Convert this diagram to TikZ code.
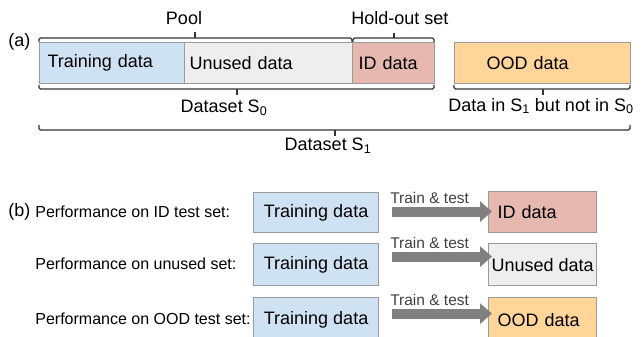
\documentclass[tikz,border=0pt]{standalone}
\usepackage{fontspec}
\setmainfont{Liberation Sans}
\usetikzlibrary{arrows.meta}

\definecolor{trainblue}{HTML}{CFE2F3}
\definecolor{unusedgray}{HTML}{EEEEEE}
\definecolor{idpink}{HTML}{E6B8AF}
\definecolor{oodorange}{HTML}{FFD59A}
\definecolor{boxline}{HTML}{9A9A9A}
\definecolor{bracketline}{HTML}{333333}
\definecolor{arrowgray}{HTML}{808080}

\newcommand{\boxfont}{\fontsize{18}{21}\selectfont}
\newcommand{\rowfont}{\fontsize{16}{19}\selectfont}
\newcommand{\arrfont}{\fontsize{15.5}{18}\selectfont}

\tikzset{every picture/.style={line width=0.75pt}}
\tikzset{
  databox/.style={draw=boxline, line width=1.2pt, anchor=north west, font=\boxfont, inner ysep=0pt},
  leftbox/.style 2 args={databox, inner xsep=#1, text width=#2, align=left},
  bracket/.style={draw=bracketline, line width=1.2pt, rounded corners=1.5pt},
  trainarrow/.style={draw=arrowgray, line width=10pt, shorten <=13pt, shorten >=-4pt, -{Triangle[length=12pt,width=20pt]}},
  traintext/.style={midway, font=\arrfont, text=black!75, xshift=-4pt, yshift=14pt, inner sep=0pt},
}

\begin{document}
\begin{tikzpicture}[x=1pt,y=1pt,yscale=-1,xscale=1]
	\useasboundingbox (0,0) rectangle (641,337);
	
	% (a) split of the data
	\node [anchor=west, font=\boxfont, inner sep=0pt] (parta) at (8,42) {(a)};
	\node [leftbox={8pt}{129pt}, fill=trainblue, minimum height=41pt] (train) at (39,42) {Training data};
	\node [leftbox={5pt}{158pt}, fill=unusedgray, minimum height=41pt] (unused) at (184,42) {Unused data};
	\node [leftbox={6pt}{70pt}, fill=idpink, minimum height=41pt] (iddata) at (352,42) {ID data};
	\node [leftbox={32pt}{112pt}, fill=oodorange, minimum height=41pt] (ooddata) at (454,42) {OOD data};
	
	% Brackets above
	\draw [bracket] (39,42) -- (39,38) -- (352,38) -- (352,42);
	\draw [bracket] (195,38) -- (195,32);
	\node [font=\boxfont, inner sep=0pt] (pool) at (184,18) {Pool};
	\draw [bracket] (353,42) -- (353,38) -- (434,38) -- (434,42);
	\draw [bracket] (394,38) -- (394,33);
	\node [font=\boxfont, inner sep=0pt] (holdout) at (400,18) {Hold-out set};
	
	% Brackets below
	\draw [bracket] (39,85) -- (39,89) -- (434,89) -- (434,85);
	\draw [bracket] (237,89) -- (237,95);
	\node [font=\boxfont, inner sep=0pt] (sets0) at (224,108) {Dataset S\textsubscript{0}};
	\draw [bracket] (454,85) -- (454,89) -- (630,89) -- (630,85);
	\draw [bracket] (543,89) -- (543,95);
	\node [font=\boxfont, inner sep=0pt] (oodonly) at (541,106) {Data in S\textsubscript{1} but not in S\textsubscript{0}};
	\draw [bracket] (39,125) -- (39,130) -- (630,130) -- (630,125);
	\draw [bracket] (335,130) -- (335,136);
	\node [font=\boxfont, inner sep=0pt] (sets1) at (328,146) {Dataset S\textsubscript{1}};
	
	% (b) evaluation settings
	\node [anchor=west, font=\boxfont, inner sep=0pt] (partb) at (8,212) {(b)};
	\node [anchor=west, font=\rowfont, inner sep=0pt] (rowid) at (35,212) {Performance on ID test set:};
	\node [anchor=west, font=\rowfont, inner sep=0pt] (rowun) at (35,264) {Performance on unused set:};
	\node [anchor=west, font=\rowfont, inner sep=0pt] (rowood) at (35,319) {Performance on OOD test set:};
	
	\node [databox, fill=trainblue, minimum width=125pt, minimum height=40pt] (tr1) at (253,192) {Training data};
	\node [databox, fill=trainblue, minimum width=125pt, minimum height=42pt] (tr2) at (253,243) {Training data};
	\node [databox, fill=trainblue, minimum width=125pt, minimum height=44pt] (tr3) at (253,297) {Training data};
	
	\node [leftbox={9pt}{90pt}, fill=idpink, minimum height=41pt] (id1) at (488,191) {ID data};
	\node [databox, fill=unusedgray, inner xsep=2pt, minimum width=108pt, minimum height=42pt] (un2) at (488,243) {Unused data};
	\node [leftbox={9pt}{90pt}, fill=oodorange, minimum height=44pt] (ood3) at (488,297) {OOD data};
	
	% Connections
	\draw [trainarrow] ([yshift=-1pt]tr1.east) -- node [traintext] {Train \& test} ([yshift=-1pt]tr1.east -| id1.west);
	\draw [trainarrow] ([yshift=-8pt]tr2.east) -- node [traintext] {Train \& test} ([yshift=-8pt]tr2.east -| un2.west);
	\draw [trainarrow] ([yshift=-6pt]tr3.east) -- node [traintext] {Train \& test} ([yshift=-6pt]tr3.east -| ood3.west);
	
\end{tikzpicture}
\end{document}
